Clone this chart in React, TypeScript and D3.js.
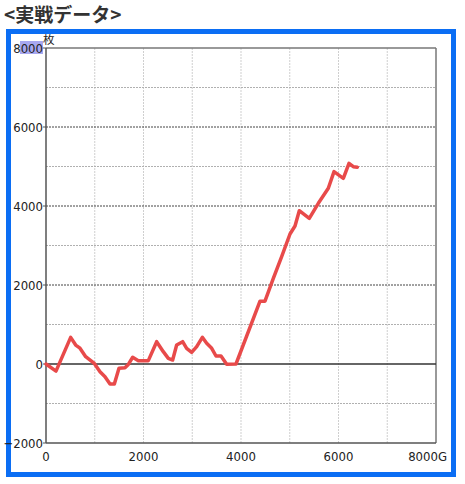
import React from 'react';
import * as d3 from 'd3';

// game count (G) and medal difference (枚)
const games = [0, 205, 506, 609, 697, 814, 991, 1108, 1210, 1313, 1402, 1497, 1620, 1689, 1778, 1894, 2099, 2270, 2406, 2509, 2598, 2680, 2803, 2885, 2988, 3091, 3207, 3296, 3399, 3487, 3590, 3706, 3897, 4390, 4492, 4663, 4834, 5005, 5108, 5196, 5401, 5586, 5791, 5908, 6099, 6215, 6304, 6386];
const medals = [0, -180, 675, 480, 400, 185, 15, -195, -320, -506, -506, -110, -93, -10, 170, 85, 85, 565, 312, 143, 101, 480, 565, 397, 296, 438, 675, 523, 397, 202, 202, -8, 0, 1590, 1590, 2169, 2716, 3291, 3494, 3881, 3688, 4068, 4448, 4869, 4701, 5081, 4996, 4979];

const xTicks = [0, 2000, 4000, 6000, 8000];
const yTicks = [-2000, 0, 2000, 4000, 6000, 8000];
const xGrid = [1000, 2000, 3000, 4000, 5000, 6000, 7000];
const yMinor = [-1000, 1000, 3000, 5000, 7000];
const yMajor = [2000, 4000, 6000];

const App = () => {
  const w = 465;
  const h = 484;
  const left = 46;
  const right = 436;
  const top = 48;
  const bottom = 443;

  const x = d3.scaleLinear().domain([0, 8000]).range([left, right]);
  const y = d3.scaleLinear().domain([-2000, 8000]).range([bottom, top]);

  const line = d3.line<number>()
    .x((_, i) => x(games[i]))
    .y(d => y(d));

  const tickFont = "'Liberation Sans Narrow', 'DejaVu Sans Condensed', sans-serif";

  return (
    <svg width={w} height={h} style={{ position: 'absolute', left: 0, top: 0, background: '#fff' }}>
      <text x={4} y={22} fontFamily="'Noto Sans CJK JP', sans-serif" fontWeight="bold" fontSize={19} fill="#333">
        &lt;実戦データ&gt;
      </text>

      <rect x={8.5} y={31.5} width={445} height={443} fill="none" stroke="#0b6ef4" strokeWidth={5} />

      {/* grid */}
      {xGrid.map(v => (
        <line key={'gx' + v} x1={x(v)} x2={x(v)} y1={top} y2={bottom}
          stroke="#cfcfcf" strokeWidth={1} strokeDasharray="2,1" />
      ))}
      {yMinor.map(v => (
        <line key={'gm' + v} x1={left} x2={right} y1={y(v)} y2={y(v)}
          stroke="#b0b0b0" strokeWidth={1} strokeDasharray="2,1" />
      ))}
      {yMajor.map(v => (
        <line key={'gM' + v} x1={left} x2={right} y1={y(v)} y2={y(v)}
          stroke="#444" strokeWidth={1} strokeDasharray="2,1" />
      ))}

      {/* frame */}
      <line x1={left} x2={right} y1={top} y2={top} stroke="#777" strokeWidth={1.5} />
      <line x1={right} x2={right} y1={top} y2={bottom} stroke="#777" strokeWidth={1.5} />
      <line x1={left} x2={right} y1={bottom} y2={bottom} stroke="#555" strokeWidth={1.5} />
      <line x1={left} x2={left} y1={top} y2={bottom} stroke="#555" strokeWidth={1.5} />
      <line x1={left} x2={right} y1={y(0)} y2={y(0)} stroke="#333" strokeWidth={1.5} />

      {/* y axis */}
      {yTicks.map(v => (
        <g key={'yt' + v}>
          <line x1={left - 3} x2={left} y1={y(v)} y2={y(v)} stroke="#555" />
          {v === 8000 && <rect x={20} y={41} width={23} height={13} fill="#a8a8f0" />}
          <text x={43} y={y(v)} dy="0.36em" textAnchor="end" fontFamily={tickFont} fontSize={13} fill="#222">
            {v < 0 ? '\u2212' + Math.abs(v) : v}
          </text>
        </g>
      ))}
      <text x={43} y={44} fontFamily="'Noto Sans CJK JP', sans-serif" fontSize={11.5} fill="#222">枚</text>

      {/* x axis */}
      {xTicks.map(v => (
        <text key={'xt' + v} x={x(v)} y={461} textAnchor={v === 8000 ? 'end' : 'middle'}
          dx={v === 8000 ? 11 : 0}
          fontFamily={tickFont} fontSize={13} fill="#222">
          {v === 8000 ? v + 'G' : v}
        </text>
      ))}

      <path d={line(medals) ?? ''} fill="none" stroke="#e84a4a" strokeWidth={3.5}
        strokeLinejoin="round" strokeLinecap="round" />
    </svg>
  );
};

export default App;
